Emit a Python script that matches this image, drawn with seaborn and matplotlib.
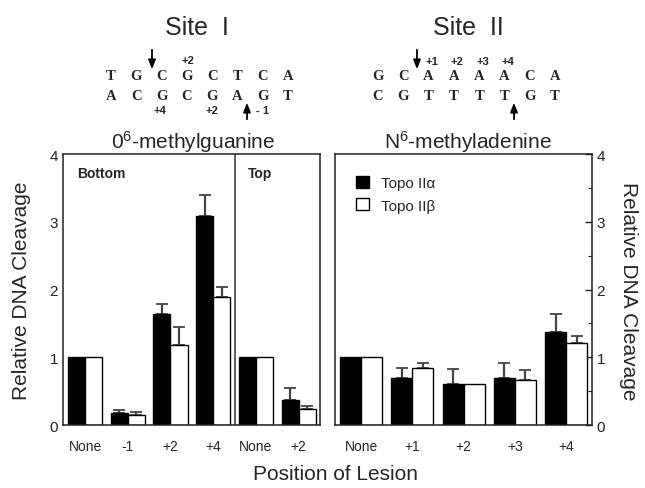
import pandas as pd
import numpy as np
import matplotlib
matplotlib.use("Agg")
import matplotlib.pyplot as plt
from matplotlib.ticker import MultipleLocator
from matplotlib.patches import Patch, FancyArrowPatch
import seaborn as sns

# ---- data ----
enzymes = ["Topo IIα", "Topo IIβ"]

# O6-methylguanine (site I), bottom strand then top strand
left_keys = ["None_b", "-1", "+2_b", "+4", "None_t", "+2_t"]
left_labels = ["None", "-1", "+2", "+4", "None", "+2"]
left_alpha = [1.0, 0.17, 1.64, 3.08, 1.0, 0.37]
left_beta = [1.0, 0.15, 1.18, 1.89, 1.0, 0.23]
left_alpha_err = [0.0, 0.05, 0.14, 0.31, 0.0, 0.18]
left_beta_err = [0.0, 0.04, 0.26, 0.15, 0.0, 0.05]

# N6-methyladenine (site II)
right_labels = ["None", "+1", "+2", "+3", "+4"]
right_alpha = [1.0, 0.69, 0.60, 0.69, 1.37]
right_beta = [1.0, 0.84, 0.60, 0.66, 1.21]
right_alpha_err = [0.0, 0.15, 0.22, 0.22, 0.27]
right_beta_err = [0.0, 0.07, 0.0, 0.15, 0.10]

site1_top = "TGCGCTCA"
site1_bot = "ACGCGAGT"
site2_top = "GCAAAACA"
site2_bot = "CGTTTTGT"

sns.set_style("white")
plt.rcParams["font.family"] = ["Liberation Sans", "DejaVu Sans"]
plt.rcParams["mathtext.fontset"] = "custom"
plt.rcParams["mathtext.rm"] = "Liberation Sans"
plt.rcParams["mathtext.it"] = "Liberation Sans:italic"

fig = plt.figure(figsize=(6.45, 4.89), dpi=100)
ax1 = fig.add_axes([0.0977, 0.1288, 0.3977, 0.5542])
ax2 = fig.add_axes([0.5194, 0.1288, 0.398, 0.5542])

df_left = pd.DataFrame({
    "pos": left_keys * 2,
    "enzyme": [enzymes[0]] * 6 + [enzymes[1]] * 6,
    "value": left_alpha + left_beta,
    "err": left_alpha_err + left_beta_err,
})
df_right = pd.DataFrame({
    "pos": right_labels * 2,
    "enzyme": [enzymes[0]] * 5 + [enzymes[1]] * 5,
    "value": right_alpha + right_beta,
    "err": right_alpha_err + right_beta_err,
})

pal = {enzymes[0]: "black", enzymes[1]: "white"}

for ax, df, order, width in [(ax1, df_left, left_keys, 0.8), (ax2, df_right, right_labels, 0.82)]:
    sns.barplot(data=df, x="pos", y="value", hue="enzyme", order=order,
                hue_order=enzymes, palette=pal, edgecolor="black", linewidth=1,
                width=width, errorbar=None, legend=False, ax=ax, zorder=2)
    # upper-only error bars at the bar centres
    for cont, enz in zip(ax.containers, enzymes):
        sub = df[df["enzyme"] == enz].set_index("pos").loc[order]
        xs = np.array([p.get_x() + p.get_width() / 2 for p in cont.patches])
        ys = sub["value"].to_numpy()
        es = sub["err"].to_numpy()
        m = es > 0
        ax.errorbar(xs[m], ys[m], yerr=[np.zeros(m.sum()), es[m]], fmt="none",
                    ecolor="#444444", elinewidth=1.6, capsize=4, capthick=1.3, zorder=1)
    ax.set_ylim(0, 4)
    ax.set_xlabel("")
    ax.set_ylabel("")
    ax.yaxis.set_major_locator(MultipleLocator(1))
    ax.yaxis.set_minor_locator(MultipleLocator(0.5))
    ax.tick_params(axis="y", which="major", direction="in", length=5, width=1,
                   labelsize=11, colors="#222222")
    ax.tick_params(axis="y", which="minor", direction="in", length=3, width=0.8)
    ax.tick_params(axis="x", length=0, labelsize=10, pad=10)
    for s in ax.spines.values():
        s.set_linewidth(1.1)
        s.set_color("#222222")

ax1.set_xlim(-0.515, 5.49)
ax1.set_xticks(range(len(left_labels)))
ax1.set_xticklabels(left_labels)
ax1.axvline(3.5, color="#333333", lw=1.1)
ax1.text(0.055, 0.93, "Bottom", transform=ax1.transAxes, fontsize=10,
         fontweight="bold", ha="left", va="center")
ax1.text(0.72, 0.93, "Top", transform=ax1.transAxes, fontsize=10,
         fontweight="bold", ha="left", va="center")

ax2.set_xlim(-0.51, 4.5)
ax2.yaxis.tick_right()
ax2.tick_params(axis="y", which="both", left=False, right=True)

handles = [Patch(facecolor=pal[e], edgecolor="black", linewidth=1, label=e) for e in enzymes]
ax2.legend(handles=handles, loc="upper left", bbox_to_anchor=(0.03, 0.97), frameon=False,
           fontsize=11, handlelength=0.8, handleheight=0.8, handletextpad=0.8,
           labelspacing=0.55)

# axis titles
fig.text(0.034, 0.405, "Relative DNA Cleavage", rotation=90, ha="center", va="center", fontsize=15)
fig.text(0.975, 0.405, "Relative DNA Cleavage", rotation=-90, ha="center", va="center", fontsize=15)
fig.text(0.52, 0.03, "Position of Lesion", ha="center", va="center", fontsize=15)

# headers
fig.text(197 / 645, 1 - 28 / 489, "Site  I", ha="center", va="center", fontsize=18)
fig.text(468 / 645, 1 - 28 / 489, "Site  II", ha="center", va="center", fontsize=18)
fig.text(193 / 645, 1 - 142 / 489, r"0$^{\mathregular{6}}$-methylguanine", ha="center", va="center", fontsize=15)
fig.text(468 / 645, 1 - 142 / 489, r"N$^{\mathregular{6}}$-methyladenine", ha="center", va="center", fontsize=15)

# sequences
seq_font = dict(family="Liberation Serif", fontweight="bold", fontsize=10.5, ha="center", va="center")
step = 25.3
for x0, top, bot in [(111, site1_top, site1_bot), (378, site2_top, site2_bot)]:
    for i, (a, b) in enumerate(zip(top, bot)):
        fig.text((x0 + i * step) / 645, 1 - 77 / 489, a, **seq_font)
        fig.text((x0 + i * step) / 645, 1 - 97 / 489, b, **seq_font)

small = dict(fontsize=8, fontweight="bold", ha="center", va="center")
fig.text(188 / 645, 1 - 61 / 489, "+2", **small)
fig.text(160 / 645, 1 - 111 / 489, "+4", **small)
fig.text(212 / 645, 1 - 111 / 489, "+2", **small)
fig.text(263 / 645, 1 - 111 / 489, "- 1", **small)
for i, lab in enumerate(["+1", "+2", "+3", "+4"]):
    fig.text((432 + i * step) / 645, 1 - 62 / 489, lab, **small)

arrow = dict(arrowstyle="-|>,head_width=0.18,head_length=0.45", color="black", lw=1.3)
for xa, y_from, y_to in [(152, 48, 73), (247, 123, 101), (417, 48, 73), (514, 123, 101)]:
    fig.add_artist(FancyArrowPatch(
        (xa / 645, 1 - y_from / 489), (xa / 645, 1 - y_to / 489),
        transform=fig.transFigure, mutation_scale=12, **arrow))

fig.savefig("out.png", dpi=100)
